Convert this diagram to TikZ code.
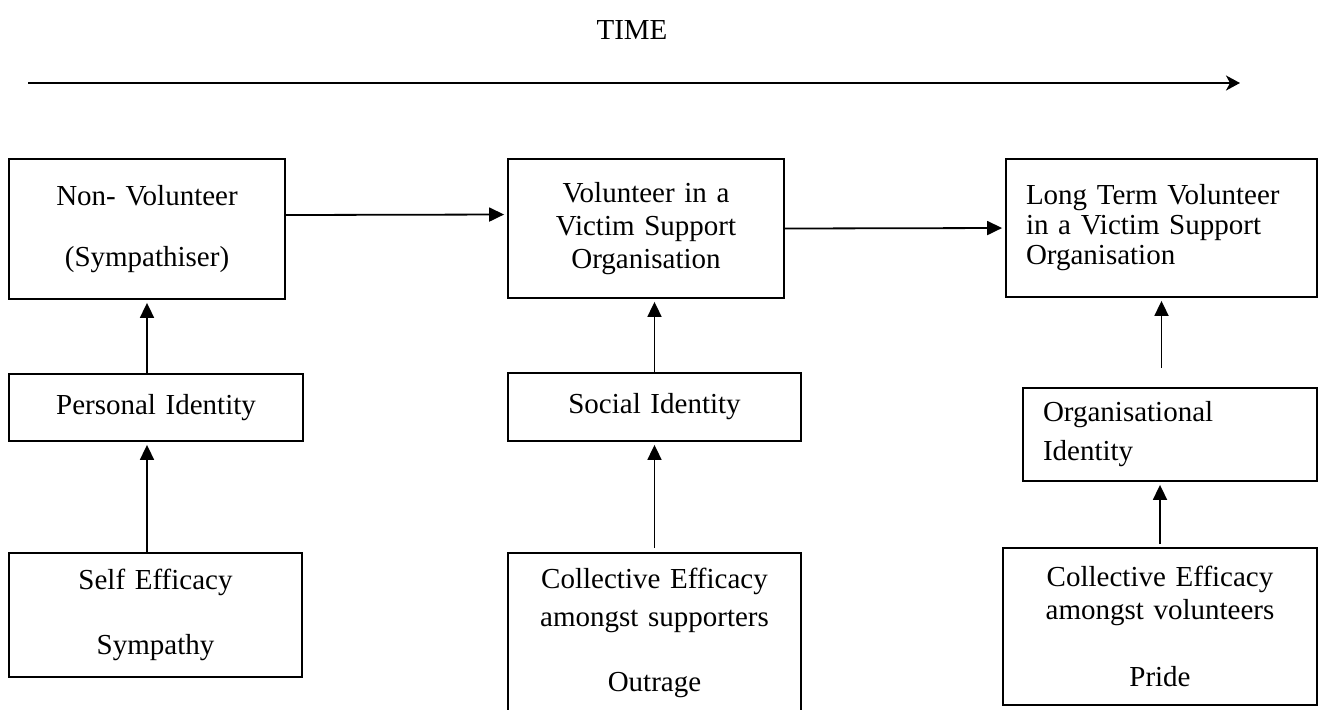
\documentclass[tikz,border=0pt]{standalone}
\usepackage{fontspec}
\setmainfont{Liberation Serif}
\usetikzlibrary{arrows.meta}

\begin{document}
\begin{tikzpicture}[x=0.5pt,y=-0.5pt,line width=0.9pt,
   txt/.style={font=\fontsize{14.5}{16.5}\selectfont},
   blk/.style n args={3}{txt,draw,rectangle,inner xsep=10pt,inner ysep=0pt,text width=#1,minimum height=#2,align=#3},
   arr/.style={-{Triangle[length=7.5pt,width=7pt]},shorten >=1.5pt}]
\path[fill=white,use as bounding box] (0,0) rectangle (1319,709);
\clip (0,0) rectangle (1319,709);
\node[txt] (time) at (632,30) {TIME};
\coordinate (t0) at (28,83);
\coordinate (t1) at (1240,83);
\draw[-{Stealth[length=7pt,width=7.5pt,inset=2pt]}] (t0) -- (t1);
\node[blk={118pt}{70pt}{center}] (nonvol) at (147,229) {Non- Volunteer\\[14pt](Sympathiser)};
\node[blk={118pt}{69.5pt}{center}] (vol) at (646,228.5) {Volunteer in a\\Victim Support\\Organisation};
\node[blk={135.5pt}{69pt}{left},font=\fontsize{14.5}{15}\selectfont] (longvol) at (1161.5,228)
   {Long Term Volunteer\\in a Victim Support\\Organisation};
\node[blk={127pt}{33.5pt}{center}] (persid) at (156,407.5) {Personal Identity};
\node[blk={126.5pt}{34pt}{center}] (socid) at (654.5,407) {Social Identity};
\node[blk={127pt}{46.5pt}{left}] (orgid) at (1170,434.5) {Organisational\\[3pt]Identity};
\node[blk={126.5pt}{62pt}{center}] (selfeff) at (155.5,615) {Self Efficacy\\[16pt]Sympathy};
\node[blk={126.5pt}{80pt}{center}] (colsup) at (654.5,633)
   {Collective Efficacy\\[2.5pt]amongst supporters\\[16pt]Outrage};
\node[blk={137pt}{78.5pt}{center}] (colvol) at (1160,626.5)
   {Collective Efficacy\\amongst volunteers\\[17pt]Pride};
\draw[arr] ([yshift=7pt]nonvol.east) -- ([yshift=7pt]vol.west);
\draw[arr] (vol.east) -- (longvol.west);
\draw[arr] (nonvol.south |- persid.north) -- (nonvol.south);
\draw[arr] (nonvol.south |- selfeff.north) -- (nonvol.south |- persid.south);
\draw[arr] (socid.north) -- (socid.north |- vol.south);
\draw[arr,shorten <=2pt] (colsup.north) -- (socid.south);
\draw[arr,shorten <=9.5pt] (orgid.north -| longvol.south) -- (longvol.south);
\draw[arr,shorten <=1.5pt] (colvol.north) -- (colvol.north |- orgid.south);
\end{tikzpicture}
\end{document}
